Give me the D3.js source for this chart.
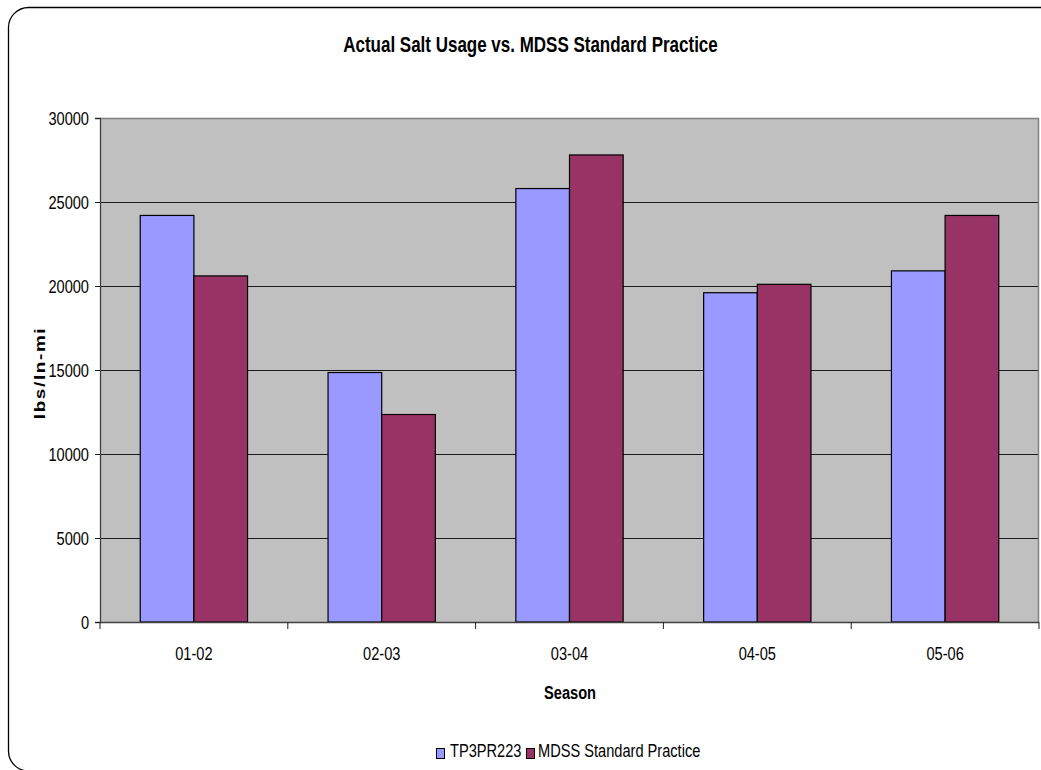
<!DOCTYPE html>
<html>
<head>
<meta charset="utf-8">
<script src="https://cdn.jsdelivr.net/npm/d3@7"></script>
<style>
  html, body { margin: 0; padding: 0; background: #ffffff; }
  svg { display: block; }
  text { font-family: "Liberation Sans", Arial, sans-serif; fill: #000; }
</style>
</head>
<body>
<svg id="chart" width="1041" height="770"></svg>
<script>
// Salt usage per season: actual vs. MDSS standard practice (lbs per lane-mile)
const seasons = ["01-02", "02-03", "03-04", "04-05", "05-06"];
const seriesNames = ["TP3PR223", "MDSS Standard Practice"];
const actualUsage = [24200, 14850, 25800, 19600, 20900];
const mdssPractice = [20600, 12350, 27800, 20100, 24200];
const yTicks = [0, 5000, 10000, 15000, 20000, 25000, 30000];
const seriesColors = ["#9999FF", "#993366"];

const titleText = "Actual Salt Usage vs. MDSS Standard Practice";
const xTitle = "Season";
const yTitle = "lbs/ln-mi";

const rows = seasons.map((s, i) => ({ season: s, values: [actualUsage[i], mdssPractice[i]] }));

const svg = d3.select("#chart");
const plot = { left: 100, right: 1039, top: 118, bottom: 622 };
const sx = 0.79; // narrow lettering

// outer frame
svg.append("rect")
  .attr("x", 8.5).attr("y", 7.5)
  .attr("width", 1070).attr("height", 763.5)
  .attr("rx", 20).attr("ry", 20)
  .attr("fill", "#fff").attr("stroke", "#000").attr("stroke-width", 1.3);

const x0 = d3.scaleBand().domain(seasons).range([plot.left, plot.right]).padding(0);
const x1 = d3.scaleBand().domain(seriesNames).range([0, x0.bandwidth()])
  .paddingInner(0).paddingOuter(0.75);
const y = d3.scaleLinear().domain([0, 30000]).range([plot.bottom, plot.top]);

// plot background
svg.append("rect")
  .attr("x", plot.left).attr("y", plot.top)
  .attr("width", plot.right - plot.left).attr("height", plot.bottom - plot.top)
  .attr("fill", "#C0C0C0");

// gridlines
svg.append("g").selectAll("line")
  .data(yTicks.filter(t => t > 0 && t < 30000))
  .join("line")
  .attr("x1", plot.left).attr("x2", plot.right)
  .attr("y1", d => Math.round(y(d)) + 0.5).attr("y2", d => Math.round(y(d)) + 0.5)
  .attr("stroke", "#1a1a1a").attr("stroke-width", 1);

// plot border (top and right)
svg.append("path")
  .attr("d", `M${plot.left},${plot.top + 0.5}H${plot.right - 0.5}V${plot.bottom}`)
  .attr("fill", "none").attr("stroke", "#808080").attr("stroke-width", 1.5);

// bars
svg.append("g").selectAll("g")
  .data(rows)
  .join("g")
  .attr("transform", d => `translate(${x0(d.season)},0)`)
  .selectAll("rect")
  .data(d => d.values.map((v, i) => ({ key: seriesNames[i], value: v, i })))
  .join("rect")
  .attr("x", d => x1(d.key))
  .attr("width", x1.bandwidth())
  .attr("y", d => y(d.value))
  .attr("height", d => y(0) - y(d.value))
  .attr("fill", d => seriesColors[d.i])
  .attr("stroke", "#000").attr("stroke-width", 1.2);

// y axis
const yAxis = d3.axisLeft(y).tickValues(yTicks).tickSize(5).tickFormat("");
const gy = svg.append("g").attr("transform", `translate(${plot.left},0)`).call(yAxis);
gy.select(".domain").attr("stroke", "#404040").attr("stroke-width", 1.3);
gy.selectAll(".tick line").attr("stroke", "#202020");

svg.append("g").selectAll("text")
  .data(yTicks)
  .join("text")
  .attr("transform", d => `translate(89,${y(d) + 6.5}) scale(${sx},1)`)
  .attr("text-anchor", "end")
  .style("font-size", "18.5px")
  .text(d => d);

// x axis with ticks on category boundaries
const boundaries = seasons.map(s => x0(s)).concat([plot.right]);
svg.append("line")
  .attr("x1", plot.left).attr("x2", plot.right)
  .attr("y1", plot.bottom + 0.5).attr("y2", plot.bottom + 0.5)
  .attr("stroke", "#404040").attr("stroke-width", 1.3);
svg.append("g").selectAll("line")
  .data(boundaries)
  .join("line")
  .attr("x1", d => d).attr("x2", d => d)
  .attr("y1", plot.bottom).attr("y2", plot.bottom + 7)
  .attr("stroke", "#202020");

svg.append("g").selectAll("text")
  .data(seasons)
  .join("text")
  .attr("transform", d => `translate(${x0(d) + x0.bandwidth() / 2},660) scale(${sx},1)`)
  .attr("text-anchor", "middle")
  .style("font-size", "18.5px")
  .text(d => d);

// titles
svg.append("text")
  .attr("transform", `translate(530.5,52) scale(${sx},1)`)
  .attr("text-anchor", "middle")
  .style("font-size", "21.5px").style("font-weight", "bold")
  .text(titleText);

svg.append("text")
  .attr("transform", `translate(570,699) scale(0.77,1)`)
  .attr("text-anchor", "middle")
  .style("font-size", "19px").style("font-weight", "bold")
  .text(xTitle);

svg.append("text")
  .attr("transform", `translate(45,373) scale(${sx},1) rotate(-90)`)
  .attr("text-anchor", "middle")
  .style("font-size", "19px").style("font-weight", "bold")
  .style("letter-spacing", "1.6px")
  .text(yTitle);

// legend
const legendItems = [
  { name: seriesNames[0], color: seriesColors[0], sw: 436.5, tx: 450 },
  { name: seriesNames[1], color: seriesColors[1], sw: 526.5, tx: 538 }
];
const lg = svg.append("g");
lg.selectAll("rect")
  .data(legendItems)
  .join("rect")
  .attr("x", d => d.sw).attr("y", 748.5)
  .attr("width", 8).attr("height", 10)
  .attr("fill", d => d.color)
  .attr("stroke", "#000").attr("stroke-width", 1);
lg.selectAll("text")
  .data(legendItems)
  .join("text")
  .attr("transform", d => `translate(${d.tx},757) scale(${sx},1)`)
  .style("font-size", "18.5px")
  .text(d => d.name);
</script>
</body>
</html>
